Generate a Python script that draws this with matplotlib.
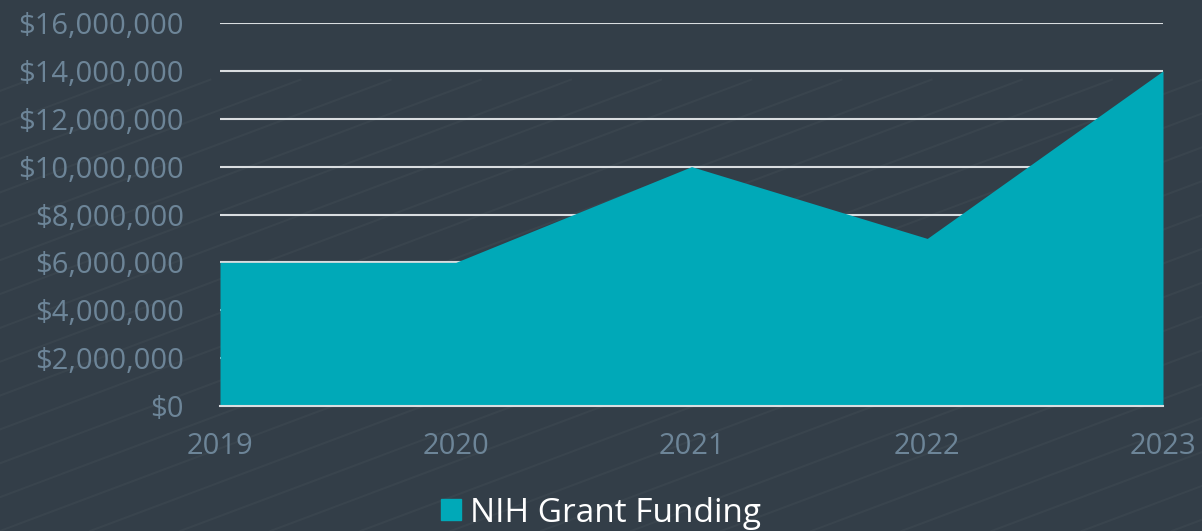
#!/usr/bin/env python3

import numpy as np
import matplotlib.pyplot as plt
from matplotlib.lines import Line2D
from matplotlib.ticker import FuncFormatter

years = ["2019", "2020", "2021", "2022", "2023"]
funding = [6000000, 6000000, 10000000, 7000000, 14000000]
series_name = "NIH Grant Funding"

BG = "#333e48"
TEAL = "#00a9b8"
TICK = "#6d8598"

plt.rcParams["font.family"] = ["Open Sans", "DejaVu Sans"]

fig = plt.figure(figsize=(12.02, 5.31), dpi=100, facecolor=BG)

# faint diagonal texture in the background
for x0 in np.arange(-1.5, 1.2, 0.075):
    fig.add_artist(Line2D([x0, x0 + 1.0], [0, 0.85], transform=fig.transFigure,
                          color="white", alpha=0.03, lw=1.5, zorder=0))

ax = fig.add_axes([220 / 1202, 1 - 406 / 531, 943 / 1202, 383 / 531])
ax.set_facecolor("none")

x = np.arange(len(years))
ax.fill_between(x, funding, 0, color=TEAL, lw=0, zorder=2)

ax.set_xlim(0, len(years) - 1)
ax.set_ylim(0, 16000000)
ax.set_yticks(np.arange(0, 16000001, 2000000))
ax.yaxis.set_major_formatter(FuncFormatter(lambda v, p: "${:,.0f}".format(v)))
ax.set_xticks(x)
ax.set_xticklabels(years)

ax.grid(axis="y", color="#d9dde0", lw=1.5, zorder=1)
ax.set_axisbelow(True)
for s in ["top", "right", "left"]:
    ax.spines[s].set_visible(False)
ax.spines["bottom"].set_color("#d9dde0")
ax.spines["bottom"].set_linewidth(1.5)
ax.spines["bottom"].set_zorder(3)

ax.tick_params(axis="both", length=0, labelsize=21, labelcolor=TICK)
ax.tick_params(axis="y", pad=26)
ax.tick_params(axis="x", pad=19)

leg = fig.legend([plt.Rectangle((0, 0), 1, 1, color=TEAL)], [series_name],
                 loc="center", bbox_to_anchor=(0.5, 1 - 513 / 531),
                 frameon=False, fontsize=24, handlelength=0.6, handleheight=0.6,
                 handletextpad=0.3, labelcolor="white")

fig.savefig("out.png", dpi=100, facecolor=BG)
